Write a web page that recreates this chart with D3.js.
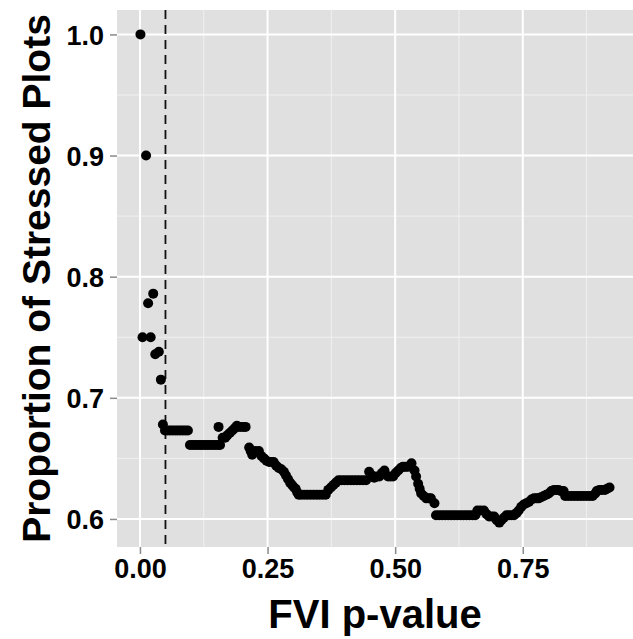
<!DOCTYPE html>
<html>
<head>
<meta charset="utf-8">
<script src="https://cdn.jsdelivr.net/npm/d3@7"></script>
<style>
  body { margin: 0; background: #ffffff; }
  text { font-family: "Liberation Sans", Arial, Helvetica, sans-serif; font-weight: bold; }
</style>
</head>
<body>
<div id="chart"></div>
<script>
// FVI p-value vs proportion of stressed plots (ggplot grey look)

// data
var pValue = [
  0.001, 0.005, 0.012, 0.016, 0.021, 0.026, 0.030, 0.037, 0.041, 0.045,
  0.049, 0.054, 0.059, 0.064, 0.069, 0.074, 0.079, 0.084, 0.089, 0.094,
  0.098, 0.103, 0.108, 0.113, 0.118, 0.123, 0.128, 0.133, 0.138, 0.143,
  0.148, 0.153, 0.154, 0.157, 0.162, 0.167, 0.171, 0.176, 0.181, 0.186,
  0.190, 0.196, 0.202, 0.207, 0.214, 0.217, 0.220, 0.226, 0.233, 0.238,
  0.243, 0.248, 0.253, 0.258, 0.262, 0.267, 0.272, 0.277, 0.282, 0.286,
  0.290, 0.294, 0.298, 0.302, 0.305, 0.308, 0.311, 0.316, 0.322, 0.328,
  0.334, 0.340, 0.346, 0.352, 0.358, 0.364, 0.369, 0.374, 0.379, 0.384,
  0.389, 0.395, 0.401, 0.407, 0.413, 0.419, 0.425, 0.431, 0.437, 0.443,
  0.449, 0.454, 0.459, 0.464, 0.469, 0.474, 0.479, 0.486, 0.491, 0.496,
  0.501, 0.506, 0.511, 0.515, 0.520, 0.525, 0.532, 0.538, 0.541, 0.545,
  0.548, 0.551, 0.556, 0.561, 0.566, 0.570, 0.577, 0.580, 0.586, 0.592,
  0.598, 0.604, 0.610, 0.616, 0.622, 0.628, 0.634, 0.640, 0.646, 0.652,
  0.657, 0.661, 0.667, 0.674, 0.679, 0.684, 0.689, 0.694, 0.699, 0.704,
  0.708, 0.713, 0.718, 0.723, 0.728, 0.733, 0.738, 0.742, 0.747, 0.752,
  0.757, 0.762, 0.767, 0.772, 0.777, 0.781, 0.786, 0.791, 0.796, 0.801,
  0.806, 0.811, 0.816, 0.820, 0.825, 0.830, 0.833, 0.839, 0.845, 0.851,
  0.857, 0.863, 0.869, 0.875, 0.881, 0.887, 0.892, 0.895, 0.900, 0.905,
  0.911, 0.915, 0.920
];
var propStressed = [
  1.000, 0.750, 0.900, 0.778, 0.750, 0.786, 0.736, 0.738, 0.715, 0.678,
  0.673, 0.673, 0.673, 0.673, 0.673, 0.673, 0.673, 0.673, 0.673, 0.673,
  0.661, 0.661, 0.661, 0.661, 0.661, 0.661, 0.661, 0.661, 0.661, 0.661,
  0.661, 0.661, 0.676, 0.661, 0.667, 0.667, 0.669, 0.671, 0.673, 0.675,
  0.677, 0.676, 0.676, 0.676, 0.659, 0.656, 0.653, 0.656, 0.656, 0.652,
  0.650, 0.648, 0.647, 0.647, 0.647, 0.644, 0.642, 0.641, 0.639, 0.636,
  0.633, 0.630, 0.628, 0.626, 0.625, 0.622, 0.620, 0.620, 0.620, 0.620,
  0.620, 0.620, 0.620, 0.620, 0.620, 0.620, 0.624, 0.626, 0.628, 0.630,
  0.632, 0.632, 0.632, 0.632, 0.632, 0.632, 0.632, 0.632, 0.632, 0.632,
  0.639, 0.636, 0.634, 0.635, 0.635, 0.638, 0.640, 0.635, 0.635, 0.635,
  0.638, 0.640, 0.642, 0.643, 0.643, 0.643, 0.646, 0.640, 0.635, 0.629,
  0.625, 0.621, 0.619, 0.617, 0.617, 0.617, 0.613, 0.603, 0.603, 0.603,
  0.603, 0.603, 0.603, 0.603, 0.603, 0.603, 0.603, 0.603, 0.603, 0.603,
  0.603, 0.607, 0.607, 0.607, 0.604, 0.602, 0.602, 0.602, 0.599, 0.597,
  0.599, 0.601, 0.603, 0.603, 0.603, 0.603, 0.605, 0.607, 0.610, 0.612,
  0.613, 0.614, 0.616, 0.617, 0.617, 0.617, 0.618, 0.619, 0.620, 0.621,
  0.623, 0.624, 0.624, 0.624, 0.623, 0.623, 0.619, 0.619, 0.619, 0.619,
  0.619, 0.619, 0.619, 0.619, 0.619, 0.619, 0.621, 0.623, 0.624, 0.624,
  0.624, 0.625, 0.626
];
var xTicks = [0, 0.25, 0.5, 0.75];
var xMinor = [0.125, 0.375, 0.625, 0.875];
var yTicks = [0.6, 0.7, 0.8, 0.9, 1.0];
var yMinor = [0.65, 0.75, 0.85, 0.95];
var cutoff = 0.05; // dashed reference line

var W = 633, H = 639;
var panel = {left: 117, top: 10, right: 633, bottom: 547};

var data = pValue.map(function(d, i) { return {p: d, prop: propStressed[i]}; });

// ggplot style 5% expansion
function expand(ext) {
  var pad = (ext[1] - ext[0]) * 0.05;
  return [ext[0] - pad, ext[1] + pad];
}

var x = d3.scaleLinear()
  .domain(expand(d3.extent(pValue)))
  .range([panel.left, panel.right]);

var y = d3.scaleLinear()
  .domain(expand(d3.extent(propStressed)))
  .range([panel.bottom, panel.top]);

var svg = d3.select("#chart").append("svg")
  .attr("width", W)
  .attr("height", H);

// panel background
svg.append("rect")
  .attr("x", panel.left)
  .attr("y", panel.top)
  .attr("width", panel.right - panel.left)
  .attr("height", panel.bottom - panel.top)
  .attr("fill", "#e0e0e0");

// minor grid
svg.selectAll(".xminor").data(xMinor).enter().append("line")
  .attr("x1", function(d) { return x(d); }).attr("x2", function(d) { return x(d); })
  .attr("y1", panel.top).attr("y2", panel.bottom)
  .attr("stroke", "#f0f0f0").attr("stroke-width", 1);
svg.selectAll(".yminor").data(yMinor).enter().append("line")
  .attr("y1", function(d) { return y(d); }).attr("y2", function(d) { return y(d); })
  .attr("x1", panel.left).attr("x2", panel.right)
  .attr("stroke", "#f0f0f0").attr("stroke-width", 1);

// major grid
svg.selectAll(".xmajor").data(xTicks).enter().append("line")
  .attr("x1", function(d) { return x(d); }).attr("x2", function(d) { return x(d); })
  .attr("y1", panel.top).attr("y2", panel.bottom)
  .attr("stroke", "#ffffff").attr("stroke-width", 2);
svg.selectAll(".ymajor").data(yTicks).enter().append("line")
  .attr("y1", function(d) { return y(d); }).attr("y2", function(d) { return y(d); })
  .attr("x1", panel.left).attr("x2", panel.right)
  .attr("stroke", "#ffffff").attr("stroke-width", 2);

// axes (ticks + labels), domain line removed
var xAxis = d3.axisBottom(x)
  .tickValues(xTicks)
  .tickSize(7)
  .tickPadding(5)
  .tickFormat(d3.format(".2f"));

var yAxis = d3.axisLeft(y)
  .tickValues(yTicks)
  .tickSize(7)
  .tickPadding(6)
  .tickFormat(d3.format(".1f"));

var gx = svg.append("g")
  .attr("transform", "translate(0," + panel.bottom + ")")
  .call(xAxis);
var gy = svg.append("g")
  .attr("transform", "translate(" + panel.left + ",0)")
  .call(yAxis);

[gx, gy].forEach(function(g) {
  g.select(".domain").remove();
  g.selectAll(".tick line").attr("stroke", "#8a8a8a").attr("stroke-width", 1.5);
  g.selectAll(".tick text")
    .attr("fill", "#000")
    .style("font-size", "27px")
    .style("font-family", "'Liberation Sans', Arial, sans-serif")
    .style("font-weight", "bold");
});
gy.selectAll(".tick text").attr("dy", "0.36em");

// dashed cutoff line
svg.append("line")
  .attr("x1", x(cutoff)).attr("x2", x(cutoff))
  .attr("y1", panel.top).attr("y2", panel.bottom)
  .attr("stroke", "#111").attr("stroke-width", 1.8)
  .attr("stroke-dasharray", "9,6");

// points
svg.selectAll("circle")
  .data(data)
  .enter()
  .append("circle")
  .attr("cx", function(d) { return x(d.p); })
  .attr("cy", function(d) { return y(d.prop); })
  .attr("r", 5)
  .attr("fill", "#000");

// axis titles
svg.append("text")
  .attr("x", (panel.left + panel.right) / 2)
  .attr("y", 628)
  .attr("text-anchor", "middle")
  .style("font-size", "40px")
  .text("FVI p-value");

svg.append("text")
  .attr("transform", "translate(50," + (panel.top + panel.bottom) / 2 + ") rotate(-90)")
  .attr("text-anchor", "middle")
  .style("font-size", "39px")
  .text("Proportion of Stressed Plots");
</script>
</body>
</html>
